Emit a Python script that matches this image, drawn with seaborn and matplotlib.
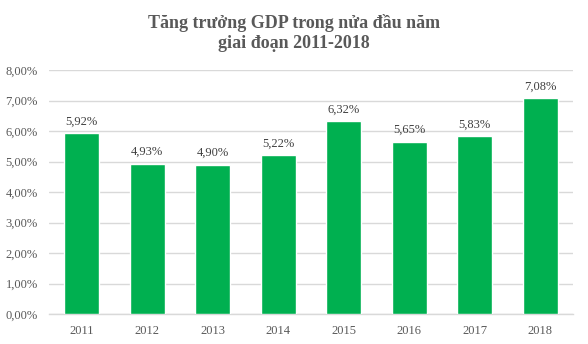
import matplotlib
matplotlib.use("Agg")
import matplotlib.pyplot as plt
import seaborn as sns
import pandas as pd
from matplotlib.ticker import FuncFormatter

years = ["2011", "2012", "2013", "2014", "2015", "2016", "2017", "2018"]
growth = [5.92, 4.93, 4.90, 5.22, 6.32, 5.65, 5.83, 7.08]
title = "Tăng trưởng GDP trong nửa đầu năm\ngiai đoạn 2011-2018"

sns.set_theme(style="white")
plt.rcParams['font.family'] = ['Liberation Serif', 'DejaVu Serif']

df = pd.DataFrame({"year": years, "growth": growth})

fig = plt.figure(figsize=(5.88, 3.44), dpi=100)
ax = fig.add_axes([49/588, 1-314/344, (573-49)/588, (314-70)/344])

sns.barplot(data=df, x="year", y="growth", color="#00B050", width=0.53,
            saturation=1, ax=ax, zorder=3)

ax.set_ylim(0, 8)
ax.set_yticks([0, 1, 2, 3, 4, 5, 6, 7, 8])
ax.yaxis.set_major_formatter(FuncFormatter(lambda v, p: f"{v:.2f}%".replace(".", ",")))
ax.grid(axis="y", color="#D9D9D9", linewidth=1, zorder=0)
ax.set_axisbelow(True)
for s in ["top", "right", "left"]:
    ax.spines[s].set_visible(False)
ax.spines["bottom"].set_color("#D9D9D9")
ax.spines["bottom"].set_linewidth(1)
ax.set_xlim(-0.5, len(years) - 0.5)
ax.set_xlabel("")
ax.set_ylabel("")
ax.tick_params(axis="both", length=0, labelsize=9, labelcolor="#595959")
ax.tick_params(axis="x", pad=8)
ax.tick_params(axis="y", pad=8)

for i, v in enumerate(growth):
    ax.annotate(f"{v:.2f}%".replace(".", ","), (i, v), xytext=(0, 4),
                textcoords="offset points", ha="center", va="bottom",
                fontsize=9, color="#404040")

fig.text(0.5, 1-33/344, title, ha="center", va="center", fontsize=13,
         fontweight="bold", color="#595959", linespacing=1.25)

fig.savefig("out.png", dpi=100)
